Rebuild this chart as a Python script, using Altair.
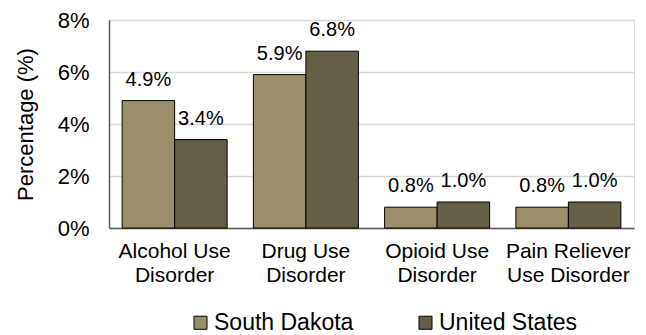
import altair as alt
import pandas as pd

categories = ["Alcohol Use\nDisorder", "Drug Use\nDisorder", "Opioid Use\nDisorder", "Pain Reliever\nUse Disorder"]
series = ["South Dakota", "United States"]
south_dakota = [4.9, 5.9, 0.8, 0.8]
united_states = [3.4, 6.8, 1.0, 1.0]
colors = ["#9A8F6A", "#665F48"]
y_ticks = [0, 2, 4, 6, 8]

rows = []
for i, c in enumerate(categories):
    rows.append({"cat": c, "series": series[0], "value": south_dakota[i]})
    rows.append({"cat": c, "series": series[1], "value": united_states[i]})
df = pd.DataFrame(rows)
df["label"] = df["value"].map(lambda v: f"{v:.1f}%")

FONT = "Liberation Sans"

x_enc = alt.X(
    "cat:N",
    sort=categories,
    title=None,
    scale=alt.Scale(paddingInner=0.2, paddingOuter=0.1),
    axis=alt.Axis(
        labelExpr="split(datum.label, '\\n')",
        labelAngle=0,
        labelFontSize=21,
        labelLineHeight=24,
        labelPadding=12,
        labelColor="black",
        labelFont=FONT,
        ticks=False,
        domainColor="#595959",
        domainWidth=1.5,
        grid=False,
    ),
)
xoff = alt.XOffset("series:N", sort=series, scale=alt.Scale(paddingInner=0, paddingOuter=0))
y_enc = alt.Y(
    "value:Q",
    scale=alt.Scale(domain=[0, 8]),
    title="Percentage (%)",
    axis=alt.Axis(
        values=y_ticks,
        labelExpr="datum.value + '%'",
        labelFontSize=22,
        labelColor="black",
        labelFont=FONT,
        labelPadding=20,
        ticks=False,
        domainColor="#595959",
        domainWidth=1.5,
        gridColor="#D9D9D9",
        gridWidth=1.5,
        titleFontSize=22,
        titleFont=FONT,
        titleFontWeight="normal",
        titleColor="black",
        titlePadding=20,
    ),
)

bars = alt.Chart(df).mark_bar(stroke="black", strokeWidth=1).encode(
    x=x_enc,
    xOffset=xoff,
    y=y_enc,
    color=alt.Color(
        "series:N",
        sort=series,
        scale=alt.Scale(domain=series, range=colors),
        legend=alt.Legend(
            title=None,
            orient="none",
            legendX=80,
            legendY=291,
            direction="horizontal",
            symbolType="square",
            symbolSize=170,
            symbolStrokeColor="black",
            symbolStrokeWidth=1,
            labelFontSize=23,
            labelFont=FONT,
            labelColor="black",
            labelOffset=2,
            columnPadding=60,
            labelLimit=300,
            padding=0,
        ),
    ),
)

text = alt.Chart(df).mark_text(
    baseline="alphabetic", dy=-15, fontSize=20, font=FONT, color="black"
).encode(
    x=alt.X("cat:N", sort=categories),
    xOffset=xoff,
    y=alt.Y("value:Q"),
    text="label:N",
)

chart = (
    alt.layer(bars, text)
    .properties(
        width=525,
        height=208,
        autosize=alt.AutoSizeParams(type="none"),
        padding={"left": 101, "top": 12, "right": 4, "bottom": 107},
    )
    .configure_view(stroke=None)
    .configure(background="white")
)

chart.save("out.html", embed_options={"renderer": "svg", "actions": False})
